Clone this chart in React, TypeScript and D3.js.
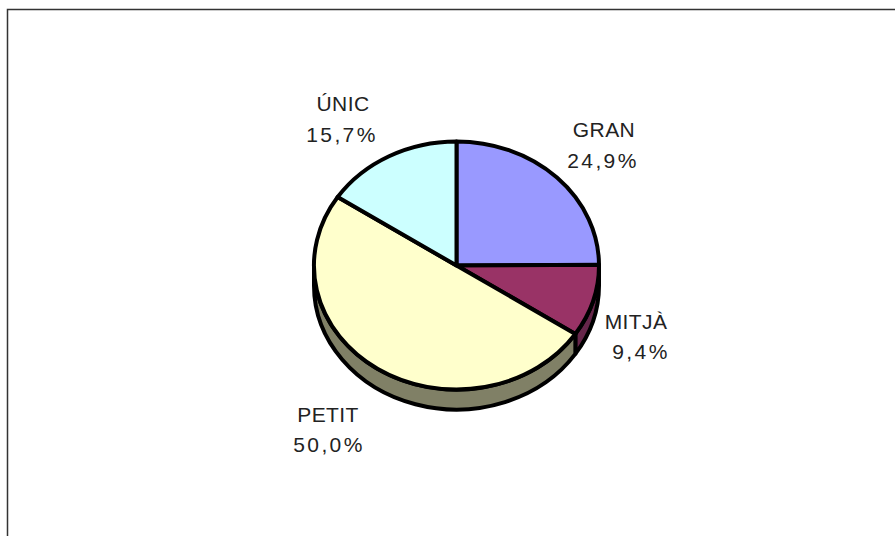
import React from "react";
import * as d3 from "d3";

const categories = ["GRAN", "MITJÀ", "PETIT", "ÚNIC"];
const shares = [24.9, 9.4, 50.0, 15.7];
const shareLabels = ["24,9%", "9,4%", "50,0%", "15,7%"];
const topColors = ["#9999ff", "#993366", "#ffffcc", "#ccffff"];
const wallColors = ["#666699", "#66264a", "#808066", "#88aaaa"];
const nameCentres: [number, number][] = [
  [604, 130],
  [636, 322],
  [328, 415],
  [343, 104],
];
const shareCentres: [number, number][] = [
  [603, 161],
  [641, 352],
  [329, 445],
  [342, 135],
];

const W = 895, H = 536, cx = 456.5, cy = 265.5, rx = 142.5, ry = 124, depth = 20;

const pie = d3.pie<number>().sort(null).startAngle(0).endAngle(2 * Math.PI);
const arcs = pie(shares);
const unitArc = d3.arc<d3.PieArcDatum<number>>().innerRadius(0).outerRadius(1);

const px = (a: number) => cx + rx * Math.sin(a);
const py = (a: number, d = 0) => cy - ry * Math.cos(a) + d;

function wallPath(a0: number, a1: number) {
  const s = Math.max(a0, Math.PI / 2), e = Math.min(a1, (3 * Math.PI) / 2);
  if (e <= s) return null;
  const large = e - s > Math.PI ? 1 : 0;
  return `M${px(s)},${py(s)} A${rx},${ry} 0 ${large} 1 ${px(e)},${py(e)} L${px(e)},${py(e, depth)} A${rx},${ry} 0 ${large} 0 ${px(s)},${py(s, depth)} Z`;
}

const font = "'Liberation Sans', Arial, sans-serif";

export default function App() {
  return (
    <svg width={W} height={H} style={{ position: "absolute", left: 0, top: 0, background: "#fff" }}>
      <path d={`M7.5,${H} V9.5 H${W}`} fill="none" stroke="#333" strokeWidth={1.5} />
      {arcs.map((a, i) => {
        const d = wallPath(a.startAngle, a.endAngle);
        return d ? <path key={i} d={d} fill={wallColors[i]} stroke="#000" strokeWidth={4} strokeLinejoin="round" /> : null;
      })}
      <g transform={`translate(${cx},${cy}) scale(${rx},${ry})`}>
        {arcs.map((a, i) => (
          <path key={i} d={unitArc(a) as string} fill={topColors[i]} stroke="#000" strokeWidth={4}
            strokeLinejoin="round" style={{ vectorEffect: "non-scaling-stroke" }} />
        ))}
      </g>
      {categories.map((c, i) => (
        <g key={c} textAnchor="middle" fontFamily={font} fontSize={21} fill="#222">
          <text x={nameCentres[i][0]} y={nameCentres[i][1] + 7} letterSpacing={0.4}>{c}</text>
          <text x={shareCentres[i][0]} y={shareCentres[i][1] + 7} letterSpacing={2.4}>{shareLabels[i]}</text>
        </g>
      ))}
    </svg>
  );
}
